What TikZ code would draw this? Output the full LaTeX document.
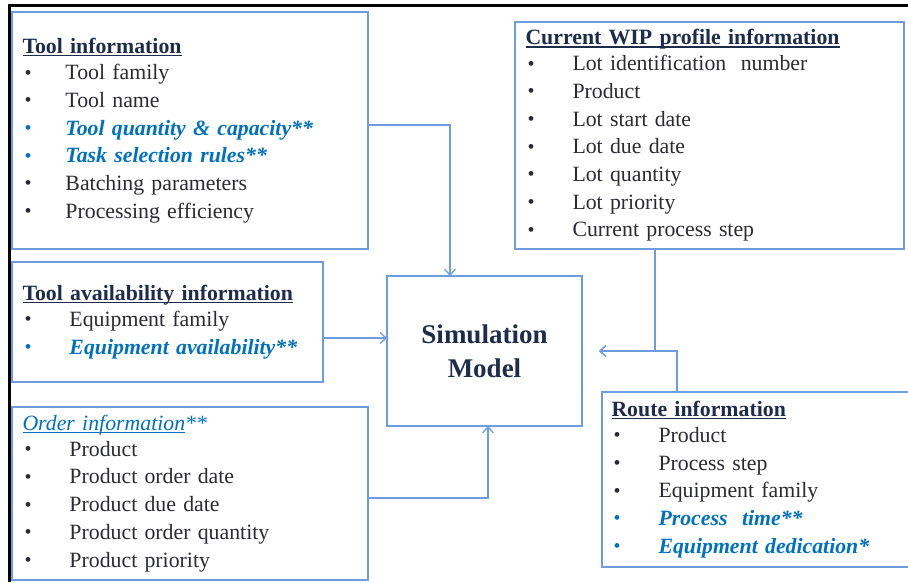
\documentclass[tikz,border=0pt]{standalone}
\usepackage{fontspec}
\setmainfont{Liberation Serif}
\usetikzlibrary{arrows.meta}

\definecolor{boxblue}{RGB}{110,156,222}
\definecolor{itblue}{RGB}{0,112,192}
\definecolor{txtgray}{RGB}{42,42,52}
\definecolor{ttlnavy}{RGB}{30,44,76}

\newcommand{\ttl}[1]{\setbox0=\hbox{#1}\rlap{\rule[-2.6pt]{\wd0}{1.1pt}}\box0}
\newcommand{\itm}[2][47pt]{\makebox[#1][l]{\hspace{2pt}\raisebox{0.5pt}{\fontsize{20}{20}\selectfont •}}#2}
\newcommand{\hitm}[2][47pt]{\textcolor{itblue}{\itm[#1]{\bfseries\itshape #2}}}

\begin{document}
\begin{tikzpicture}[x=1pt,y=-1pt,>={Straight Barb[length=6pt,width=11pt]},
    infobox/.style={draw=boxblue,line width=1.3pt,anchor=north west,outer sep=0pt,
      align=left,inner xsep=10.5pt,text=txtgray,font=\fontsize{21.8}{27.7}\selectfont},
    link/.style={->,draw=boxblue,line width=1.3pt}]
  \clip (0,0) rectangle (908,582);
  \draw[line width=3pt] (9,582) -- (9,5.5) -- (908,5.5);

  % input boxes
  \node[infobox,text width=335pt,minimum height=237pt] (tool) at (12,12) {%
    \textcolor{ttlnavy}{\ttl{\bfseries Tool information}}\\[-1.5pt]
    \itm[43pt]{Tool family}\\
    \itm[43pt]{Tool name}\\
    \hitm[43pt]{Tool quantity \& capacity**}\\
    \hitm[43pt]{Task selection rules**}\\
    \itm[43pt]{Batching parameters}\\
    \itm[43pt]{Processing efficiency}};
  \node[infobox,text width=368pt,minimum height=227pt] (wip) at (515,22) {%
    \textcolor{ttlnavy}{\ttl{\bfseries Current WIP profile information}}\\[-2pt]
    \itm{Lot identification\ \ number}\\
    \itm{Product}\\
    \itm{Lot start date}\\
    \itm{Lot due date}\\
    \itm{Lot quantity}\\
    \itm{Lot priority}\\
    \itm{Current process step}};
  \node[infobox,text width=290pt,minimum height=120pt] (avail) at (12,262) {%
    \textcolor{ttlnavy}{\ttl{\bfseries Tool availability information}}\\[-2pt]
    \itm{Equipment\ family}\\
    \hitm{Equipment availability**}};
  \node[infobox,text width=335pt,minimum height=173pt] (order) at (12,407) {%
    \textcolor{itblue}{\itshape\ttl{Order\ information}**}\\[-2pt]
    \itm{Product}\\
    \itm{Product order date}\\
    \itm{Product due date}\\
    \itm{Product order quantity}\\
    \itm{Product priority}};
  \node[infobox,inner xsep=9.5pt,text width=294pt,minimum height=175pt] (route) at (602,392) {%
    \textcolor{ttlnavy}{\ttl{\bfseries Route information}}\\[-2pt]
    \itm{Product}\\
    \itm{Process step}\\
    \itm{Equipment family}\\
    \hitm{Process\ \ time**}\\
    \hitm{Equipment dedication*}};

  % model
  \node[draw=boxblue,line width=1.3pt,anchor=north west,outer sep=0pt,minimum width=195pt,
    minimum height=150pt,align=center,text=ttlnavy,font=\fontsize{27}{34}\selectfont\bfseries]
    (sim) at (387,276) {Simulation\\Model};

  \draw[link] ([yshift=5.5pt]tool.east) -| ([xshift=-34.5pt]sim.north);
  \draw[link] ([yshift=-16pt]avail.east) coordinate (a) -- (a -| sim.west);
  \draw[link] ([yshift=-4.5pt]order.east) -| ([xshift=3.5pt]sim.south);
  \draw[link,shorten >=17pt] ([xshift=-54.5pt]wip.south) |- (sim.east);
  \draw[link,shorten >=17pt] ([xshift=-81.5pt]route.north) |- (sim.east);
\end{tikzpicture}
\end{document}
